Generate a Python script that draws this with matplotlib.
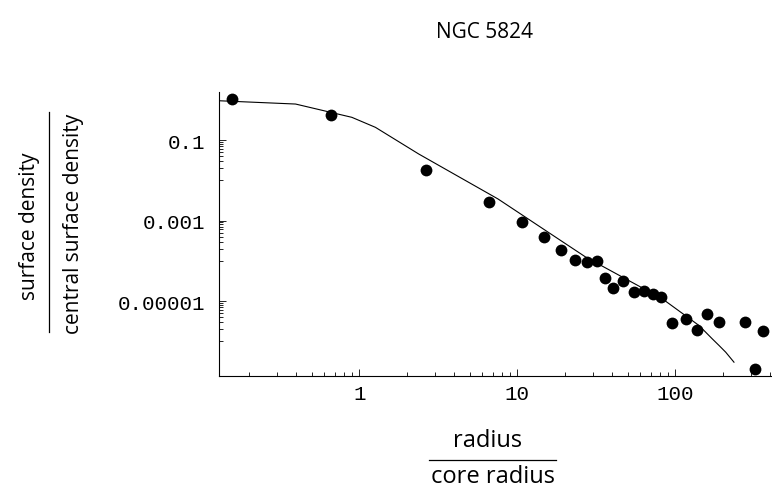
import matplotlib
matplotlib.use("Agg")
import matplotlib.pyplot as plt
from matplotlib.lines import Line2D
from matplotlib.ticker import NullFormatter

# ---------------- data ----------------
title = "NGC 5824"

r_obs = [0.157, 0.664, 2.64, 6.67, 10.74, 14.85, 19.02, 23.32, 27.48, 31.78,
         35.92, 40.12, 46.67, 55.0, 63.6, 72.5, 81.5, 95.6, 116.7, 138.1,
         159.7, 190.2, 275.3, 319.7, 360.6]
s_obs = [1.04, 0.417, 1.83e-2, 2.85e-3, 9.07e-4, 3.85e-4, 1.90e-4, 1.04e-4,
         9.55e-5, 9.95e-5, 3.83e-5, 2.09e-5, 3.23e-5, 1.69e-5, 1.82e-5,
         1.54e-5, 1.29e-5, 2.88e-6, 3.68e-6, 1.93e-6, 4.73e-6, 2.99e-6,
         2.99e-6, 2.08e-7, 1.79e-6]

r_fit = [0.1294, 0.395, 0.897, 1.265, 2.377, 7.55, 27.2, 83.0, 141.6,
         171.8, 189.2, 208.9, 235.5]
s_fit = [0.944, 0.782, 0.366, 0.2065, 0.045, 3.44e-3, 1.23e-4, 1.135e-5,
         2.47e-6, 1.15e-6, 7.94e-7, 5.37e-7, 3.04e-7]

x_ticks = [1, 10, 100]
x_tick_labels = ["1", "10", "100"]
y_ticks = [1e-1, 1e-3, 1e-5]
y_tick_labels = ["0.1", "0.001", "0.00001"]

x_label_num = "radius"
x_label_den = "core radius"
y_label_num = "surface density"
y_label_den = "central surface density"

# ---------------- figure ----------------
W, H = 772, 489
fig = plt.figure(figsize=(W / 100, H / 100), dpi=100)
ax = fig.add_axes([219 / W, 1 - 377 / H, (771 - 219) / W, (377 - 93.3) / H])
ax.set_xscale("log")
ax.set_yscale("log")

ax.plot(r_fit, s_fit, color="black", lw=0.8, solid_joinstyle="round")
ax.plot(r_obs, s_obs, "o", color="black", ms=8.5, mew=0, clip_on=False)

ax.set_xlim(0.1294, 404)
ax.set_ylim(1.38e-7, 1.53)

for s in ["top", "right"]:
    ax.spines[s].set_visible(False)
for s in ["left", "bottom"]:
    ax.spines[s].set_linewidth(0.8)

ax.set_xticks(x_ticks, x_tick_labels)
x_minor = [m * 10.0 ** k for k in (-1, 0, 1, 2) for m in range(2, 10)]
x_minor = [v for v in x_minor if 0.1294 <= v <= 404]
ax.set_xticks(x_minor, minor=True)
ax.xaxis.set_minor_formatter(NullFormatter())

ax.set_yticks(y_ticks, y_tick_labels)
y_minor = []
for k in (-1, -3, -5):
    y_minor += [m * 10.0 ** (k - 1) for m in range(2, 10)]
    y_minor.append(10.0 ** (k - 1))
ax.set_yticks(y_minor, minor=True)
ax.yaxis.set_minor_formatter(NullFormatter())

ax.tick_params(which="both", direction="in", width=0.6)
ax.tick_params(which="major", length=5)
ax.tick_params(which="minor", length=3)
ax.tick_params(axis="x", which="major", pad=6)
ax.tick_params(axis="y", which="major", pad=10)
for lab in ax.get_xticklabels() + ax.get_yticklabels():
    lab.set_fontfamily("Liberation Mono")
    lab.set_fontsize(15)

x_label_font = dict(family="Open Sans", fontsize=17, color="black")
y_label_font = dict(family="Open Sans", fontsize=15, color="black")

# title
fig.text(484 / W, 1 - 32 / H, title, ha="center", va="center",
         family="Open Sans", fontsize=15)

# x label as fraction
fig.text(488 / W, 1 - 441 / H, x_label_num, ha="center", va="center", **x_label_font)
fig.add_artist(Line2D([429 / W, 556 / W], [1 - 461 / H, 1 - 461 / H],
                      color="black", lw=0.9, transform=fig.transFigure))
fig.text(493 / W, 1 - 477 / H, x_label_den, ha="center", va="center", **x_label_font)

# y label as fraction
fig.text(30 / W, 1 - 226 / H, y_label_num, ha="center", va="center",
         rotation=90, **y_label_font)
fig.add_artist(Line2D([49 / W, 49 / W], [1 - 113 / H, 1 - 333 / H],
                      color="black", lw=0.9, transform=fig.transFigure))
fig.text(73 / W, 1 - 224 / H, y_label_den, ha="center", va="center",
         rotation=90, **y_label_font)

fig.savefig("out.png", dpi=100)
